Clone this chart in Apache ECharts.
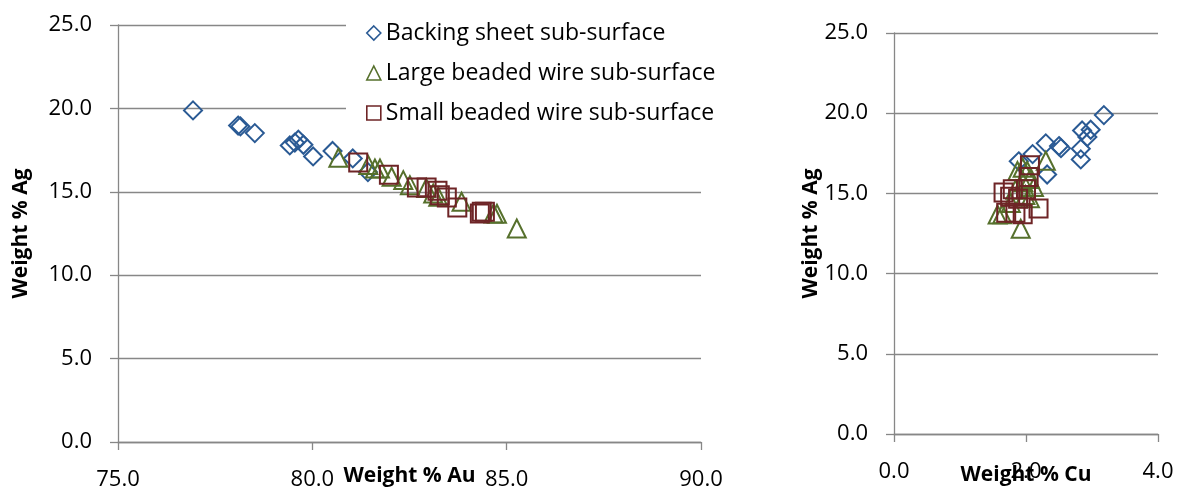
<!DOCTYPE html>
<html><head><meta charset="utf-8">
<script src="https://cdn.jsdelivr.net/npm/echarts@6/dist/echarts.min.js"></script>
<style>html,body{margin:0;padding:0;background:#fff}#c{width:1177px;height:488px}</style>
</head><body><div id="c"></div>
<script>
// Series names
const seriesNames = ['Backing sheet sub-surface', 'Large beaded wire sub-surface', 'Small beaded wire sub-surface'];

// Backing sheet sub-surface samples (weight %)
const backingAu = [76.93, 78.09, 78.15, 78.52, 79.42, 79.55, 79.64, 79.77, 80.02, 80.52, 81.04, 81.43];
const backingAg = [19.88, 18.97, 18.92, 18.52, 17.78, 17.95, 18.12, 17.82, 17.12, 17.45, 17.00, 16.18];
const backingCu = [3.18, 2.98, 2.85, 2.93, 2.83, 2.50, 2.30, 2.53, 2.83, 2.10, 1.89, 2.32];

// Large beaded wire sub-surface samples
const largeAu = [80.67, 81.44, 81.61, 81.74, 82.04, 82.34, 82.51, 82.93, 83.11, 83.24, 83.84, 84.66, 84.75, 85.26];
const largeAg = [17.04, 16.60, 16.40, 16.40, 15.90, 15.70, 15.40, 15.23, 14.90, 14.70, 14.40, 13.70, 13.68, 12.80];
const largeCu = [2.30, 1.95, 2.02, 1.87, 2.06, 1.96, 2.12, 1.84, 1.99, 2.06, 1.77, 1.64, 1.57, 1.92];

// Small beaded wire sub-surface samples
const smallAu = [81.18, 81.97, 82.69, 82.94, 83.22, 83.28, 83.46, 83.73, 84.31, 84.36, 84.44];
const smallAg = [16.76, 16.02, 15.26, 15.26, 15.06, 14.79, 14.66, 14.06, 13.70, 13.80, 13.80];
const smallCu = [2.06, 2.04, 2.00, 1.80, 1.66, 1.76, 1.88, 2.19, 1.95, 1.84, 1.70];

// Axis ranges / labels
const auAxis = {min: 75, max: 90, interval: 5, title: 'Weight % Au'};
const cuAxis = {min: 0, max: 4, interval: 2, title: 'Weight % Cu'};
const agAxis = {min: 0, max: 25, interval: 5, title: 'Weight % Ag'};

const colors = ['#2a5a94', '#56702c', '#6e2426'];
const symbols = ['diamond', 'triangle', 'rect'];
const FONT = '"Open Sans"';
const GREY = '#878787';

function zip(a, b) { return a.map((v, i) => [v, b[i]]); }

const leftData = [zip(backingAu, backingAg), zip(largeAu, largeAg), zip(smallAu, smallAg)];
const rightData = [zip(backingCu, backingAg), zip(largeCu, largeAg), zip(smallCu, smallAg)];

function xAx(ax, gridIndex, gap, margin) {
  return {
    type: 'value', gridIndex, min: ax.min, max: ax.max, interval: ax.interval,
    name: ax.title, nameLocation: 'middle', nameGap: gap, nameMoveOverlap: false,
    nameTextStyle: {fontFamily: FONT, fontWeight: 'bold', fontSize: 21, color: '#000'},
    axisLine: {show: true, onZero: false, lineStyle: {color: GREY, width: 1.3}},
    axisTick: {show: true, inside: false, length: 8, lineStyle: {color: GREY, width: 1.3}},
    axisLabel: {fontFamily: FONT, fontSize: 22, color: '#000', margin: margin, formatter: v => v.toFixed(1)},
    splitLine: {show: false}
  };
}
function yAx(ax, gridIndex, gap) {
  return {
    type: 'value', gridIndex, min: ax.min, max: ax.max, interval: ax.interval,
    name: ax.title, nameLocation: 'middle', nameGap: gap, nameRotate: 90, nameMoveOverlap: false,
    nameTextStyle: {fontFamily: FONT, fontWeight: 'bold', fontSize: 21, color: '#000'},
    axisLine: {show: true, onZero: false, lineStyle: {color: GREY, width: 1.3}},
    axisTick: {show: true, inside: false, length: 8, lineStyle: {color: GREY, width: 1.3}},
    axisLabel: {fontFamily: FONT, fontSize: 22, color: '#000', margin: 26, formatter: v => v.toFixed(1)},
    splitLine: {show: true, lineStyle: {color: GREY, width: 1.3}}
  };
}

const series = [];
[leftData, rightData].forEach((set, gi) => {
  set.forEach((d, si) => {
    series.push({
      type: 'scatter', name: seriesNames[si], xAxisIndex: gi, yAxisIndex: gi,
      data: d, symbol: symbols[si], symbolSize: 18,
      itemStyle: {color: 'rgba(255,255,255,0)', borderColor: colors[si], borderWidth: 2, opacity: 1},
      emphasis: {disabled: true}, z: 2 + si
    });
  });
});

const chart = echarts.init(document.getElementById('c'), null, {renderer: 'canvas'});
chart.setOption({
  animation: false,
  backgroundColor: '#fff',
  grid: [
    {left: 118, top: 25, width: 583, height: 417, outerBoundsMode: 'none', containLabel: false},
    {left: 894, top: 33, width: 264, height: 401, outerBoundsMode: 'none', containLabel: false}
  ],
  xAxis: [xAx(auAxis, 0, 24, 27), xAx(cuAxis, 1, 31, 27)],
  yAxis: [yAx(agAxis, 0, 86), yAx(agAxis, 1, 72)],
  legend: {
    orient: 'vertical', left: 346, top: 11,
    padding: [10, 30, 14, 20],
    backgroundColor: '#fff',
    itemWidth: 14, itemHeight: 14, itemGap: 16,
    data: seriesNames.map((n, i) => ({name: n, icon: symbols[i], itemStyle: {color: 'rgba(255,255,255,0)', borderColor: colors[i], borderWidth: 1.6}})),
    textStyle: {fontFamily: FONT, fontSize: 23, color: '#000', lineHeight: 24}
  },
  series
});
</script>
</body></html>
